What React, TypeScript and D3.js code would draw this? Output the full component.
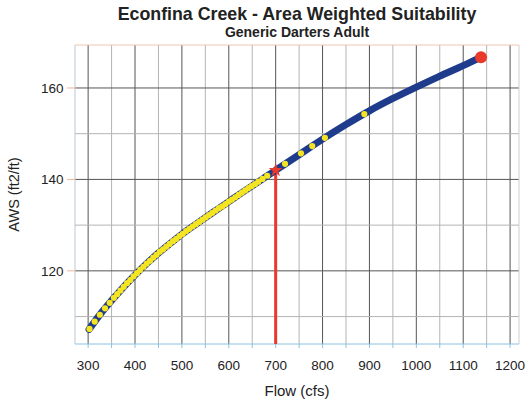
import React from "react";
import * as d3 from "d3";

// AWS curve (flow in cfs, AWS in ft2/ft)
const curveFlow = [302, 325, 350, 375, 400, 425, 450, 475, 500, 525, 550, 575, 600, 625, 650, 675, 700, 750, 800, 850, 900, 950, 1000, 1050, 1100, 1137];
const curveAws = [107.2, 110.4, 113.5, 116.4, 119.1, 121.6, 123.9, 126.0, 128.0, 129.85, 131.65, 133.4, 135.15, 136.9, 138.6, 140.3, 142.0, 145.4, 148.8, 152.0, 155.0, 157.7, 160.2, 162.6, 164.9, 166.7];

// yellow sample points
const dotFlow = [303, 314, 325, 336, 346, 355, 362, 369, 376, 383, 390, 397, 404, 411, 418, 425, 432, 439, 446, 453, 460, 467, 474, 481, 488, 495, 502, 509, 516, 523, 530, 537, 544, 551, 558, 565, 572, 579, 586, 593, 600, 607, 614, 621, 628, 635, 642, 649, 656, 663, 672, 682, 720, 754, 778, 805, 889];
const dotAws = [107.3, 108.9, 110.4, 111.8, 113.0, 114.1, 114.9, 115.7, 116.5, 117.3, 118.0, 118.8, 119.5, 120.2, 120.9, 121.6, 122.2, 122.9, 123.5, 124.2, 124.7, 125.3, 125.9, 126.5, 127.0, 127.6, 128.1, 128.7, 129.2, 129.7, 130.2, 130.7, 131.2, 131.7, 132.2, 132.7, 133.2, 133.7, 134.1, 134.6, 135.15, 135.6, 136.1, 136.6, 137.1, 137.6, 138.1, 138.55, 139.0, 139.5, 140.1, 140.8, 143.4, 145.7, 147.3, 149.1, 154.3];

const currentFlow = 700;
const currentAws = 142.0;
const maxFlow = 1138;
const maxAws = 166.7;

const xTicks = [300, 400, 500, 600, 700, 800, 900, 1000, 1100, 1200];
const yTicks = [120, 140, 160];

const W = 527;
const H = 406;
const left = 75;
const right = 519;
const top = 45;
const bottom = 344;

export default function App() {
  const x = d3.scaleLinear().domain([272, 1219]).range([left, right]);
  const y = d3.scaleLinear().domain([104, 169.4]).range([bottom, top]);

  const minorX = d3.range(300, 1201, 50);
  const minorY = d3.range(110, 170, 10);

  const line = d3
    .line<number>()
    .x((d, i) => x(curveFlow[i]))
    .y((d) => y(d))
    .curve(d3.curveMonotoneX);

  const star = d3.symbol().type(d3.symbolStar).size(60)();
  const font = "'Liberation Sans', Arial, sans-serif";

  return (
    <svg width={W} height={H} style={{ position: "absolute", left: 0, top: 0, background: "#fff" }} fontFamily={font}>
      <text x={297} y={19.5} textAnchor="middle" fontSize={17.8} fontWeight="bold" fill="#222">
        Econfina Creek - Area Weighted Suitability
      </text>
      <text x={297} y={36.5} textAnchor="middle" fontSize={14} fontWeight="bold" fill="#222">
        Generic Darters Adult
      </text>

      {/* grid */}
      {minorX.map((v) => (
        <line key={"gx" + v} x1={x(v)} x2={x(v)} y1={top} y2={bottom} stroke={v % 100 === 0 ? "#555" : "#b4b4b4"} strokeWidth={1} />
      ))}
      {minorY.map((v) => (
        <line key={"gy" + v} x1={left} x2={right} y1={y(v)} y2={y(v)} stroke={v % 20 === 0 ? "#555" : "#b4b4b4"} strokeWidth={1} />
      ))}

      {/* frame */}
      <line x1={left} x2={right} y1={top} y2={top} stroke="#f2c4b0" />
      <line x1={left} x2={left} y1={top} y2={bottom} stroke="#b9c9d2" />
      <line x1={right} x2={right} y1={top} y2={bottom} stroke="#cfcfcf" />
      <line x1={left} x2={right} y1={bottom} y2={bottom} stroke="#8cc4dc" />
      {minorX.map((v) => (
        <line key={"tx" + v} x1={x(v)} x2={x(v)} y1={bottom} y2={bottom + 4} stroke="#8cc4dc" />
      ))}
      {yTicks.map((v) => (
        <line key={"ty" + v} x1={left - 8} x2={left} y1={y(v)} y2={y(v)} stroke="#f0b898" />
      ))}

      {/* tick labels */}
      {xTicks.map((v) => (
        <text key={"lx" + v} x={x(v)} y={369.5} textAnchor="middle" fontSize={13.5} fill="#222">
          {v}
        </text>
      ))}
      {yTicks.map((v) => (
        <text key={"ly" + v} x={63.5} y={y(v) + 4.8} textAnchor="end" fontSize={13.5} fill="#222">
          {v}
        </text>
      ))}
      <text x={297} y={396} textAnchor="middle" fontSize={15} fill="#222">
        Flow (cfs)
      </text>
      <text transform={`translate(18.5,${(top + bottom) / 2}) rotate(-90)`} textAnchor="middle" fontSize={14.5} fill="#222">
        AWS (ft2/ft)
      </text>

      {/* red current-flow marker line */}
      <line x1={x(currentFlow)} x2={x(currentFlow)} y1={bottom} y2={y(currentAws)} stroke="#e8392b" strokeWidth={3} />

      {/* AWS curve */}
      <path d={line(curveAws) || ""} fill="none" stroke="#1f3b8c" strokeWidth={7} strokeLinecap="round" />

      {dotFlow.map((f, i) => (
        <circle key={"d" + i} cx={x(f)} cy={y(dotAws[i])} r={3.1} fill="#f4e421" />
      ))}

      <path d={star || ""} transform={`translate(${x(currentFlow)},${y(currentAws)})`} fill="#e8392b" />
      <circle cx={x(maxFlow)} cy={y(maxAws)} r={6} fill="#e8392b" />
    </svg>
  );
}
